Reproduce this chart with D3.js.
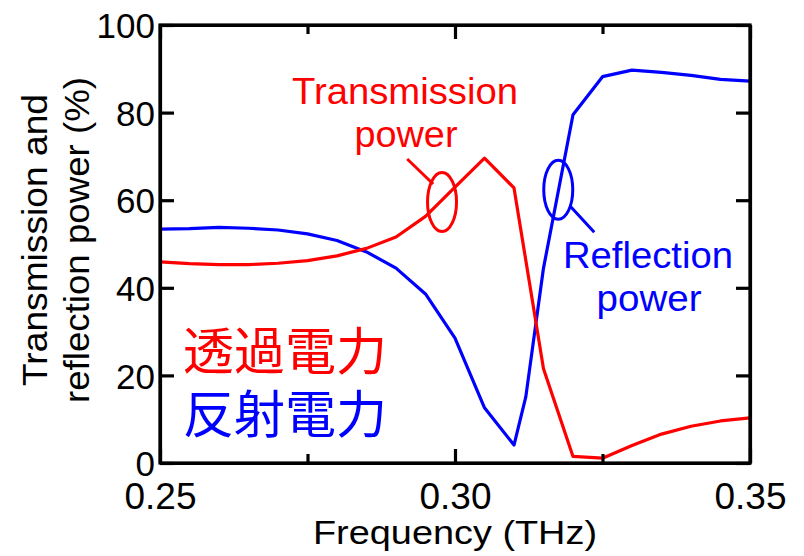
<!DOCTYPE html>
<html>
<head>
<meta charset="utf-8">
<script src="https://cdn.jsdelivr.net/npm/d3@7"></script>
<style>
   body { margin: 0; background: #fff; }
   text { font-family: "Liberation Sans", Arial, sans-serif; }
</style>
</head>
<body>
<div id="chart"></div>
<script>

// TRANSMISSION DATA (THz, %)
var freqT = [0.250, 0.255, 0.260, 0.265, 0.270, 0.275, 0.280, 0.285, 0.290, 0.295, 0.300,
             0.305, 0.310, 0.315, 0.320, 0.325, 0.330, 0.335, 0.340, 0.345, 0.350];
var transmission = [45.9, 45.5, 45.3, 45.3, 45.6, 46.2, 47.3, 49.0, 51.6, 56.3, 63.0,
                    69.6, 62.8, 21.5, 1.5, 1.1, 4.0, 6.6, 8.4, 9.6, 10.3];

// REFLECTION DATA (THz, %)
var freqR = [0.250, 0.255, 0.260, 0.265, 0.270, 0.275, 0.280, 0.285, 0.290, 0.295, 0.300,
             0.305, 0.310, 0.312, 0.315, 0.320, 0.325, 0.330, 0.335, 0.340, 0.345, 0.350];
var reflection = [53.4, 53.5, 53.8, 53.6, 53.2, 52.3, 50.8, 48.2, 44.5, 38.6, 28.5,
                  12.6, 4.1, 15.1, 44.5, 79.5, 88.2, 89.7, 89.2, 88.5, 87.6, 87.2];

// TICKS
var xMajor = [0.25, 0.30, 0.35];
var xMinor = [0.275, 0.325];
var yTicks = [0, 20, 40, 60, 80, 100];

// SETTINGS
var settings = {
   width: 804,
   height: 556,
   margin: { left: 160, top: 25, right: 54, bottom: 93 },
   red: '#ff0000',
   blue: '#0000ff'
};

var innerW = settings.width - settings.margin.left - settings.margin.right;
var innerH = settings.height - settings.margin.top - settings.margin.bottom;

// SCALES
var xScale = d3.scaleLinear().domain([0.25, 0.35]).range([0, innerW]);
var yScale = d3.scaleLinear().domain([0, 100]).range([innerH, 0]);

// CANVAS
var svg = d3.select('#chart').append('svg')
   .attr('width', settings.width)
   .attr('height', settings.height);

var g = svg.append('g')
   .attr('transform', 'translate(' + settings.margin.left + ',' + settings.margin.top + ')');

// CLIP FOR LINES
g.append('clipPath').attr('id', 'plot')
   .append('rect').attr('width', innerW).attr('height', innerH);

// LINE GENERATOR
function pathify(xs, ys) {
   var line = d3.line()
      .x((d, i) => { return xScale(xs[i]) })
      .y((d) => { return yScale(d) });
   return line(ys);
}

// DATA LINES
g.append('path')
   .attr('d', pathify(freqR, reflection))
   .attr('fill', 'none').attr('stroke', settings.blue)
   .attr('stroke-width', 3.2).attr('stroke-linejoin', 'round')
   .attr('clip-path', 'url(#plot)');

g.append('path')
   .attr('d', pathify(freqT, transmission))
   .attr('fill', 'none').attr('stroke', settings.red)
   .attr('stroke-width', 3.2).attr('stroke-linejoin', 'round')
   .attr('clip-path', 'url(#plot)');

// AXES (TICKS POINT INWARD)
var axisB = g.append('g').attr('transform', 'translate(0,' + innerH + ')')
   .call(d3.axisBottom(xScale).tickValues(xMajor).tickSizeInner(-14).tickSizeOuter(0)
      .tickFormat(d3.format('.2f')));
axisB.append('g')
   .call(d3.axisBottom(xScale).tickValues(xMinor).tickSizeInner(-9).tickSizeOuter(0).tickFormat(''));

var axisT = g.append('g')
   .call(d3.axisTop(xScale).tickValues(xMajor).tickSizeInner(-14).tickSizeOuter(0).tickFormat(''));
axisT.append('g')
   .call(d3.axisTop(xScale).tickValues(xMinor).tickSizeInner(-9).tickSizeOuter(0).tickFormat(''));

var axisL = g.append('g')
   .call(d3.axisLeft(yScale).tickValues(yTicks).tickSizeInner(-14).tickSizeOuter(0).tickPadding(5));

var axisR = g.append('g').attr('transform', 'translate(' + innerW + ',0)')
   .call(d3.axisRight(yScale).tickValues(yTicks).tickSizeInner(-14).tickSizeOuter(0).tickFormat(''));

// AXIS STYLE
g.selectAll('.domain').attr('stroke', '#000').attr('stroke-width', 3.2);
g.selectAll('.tick line').attr('stroke', '#000').attr('stroke-width', 3.2);
g.selectAll('.tick text')
   .attr('fill', '#000')
   .style('font-family', '"Liberation Sans", Arial, sans-serif');
axisL.selectAll('.tick text').attr('dy', '0.36em').style('font-size', '35px');
axisB.selectAll('.tick text').attr('y', 46).attr('dy', 0).style('font-size', '37px');

// FRAME
g.append('rect')
   .attr('width', innerW).attr('height', innerH)
   .attr('fill', 'none').attr('stroke', '#000').attr('stroke-width', 3.2);

// X TITLE
svg.append('text')
   .attr('x', 455).attr('y', 544)
   .attr('text-anchor', 'middle')
   .attr('textLength', 284).attr('lengthAdjust', 'spacingAndGlyphs')
   .style('font-size', '34px')
   .text('Frequency (THz)');

// Y TITLE (TWO LINES)
var ytitle = svg.append('text')
   .attr('transform', 'translate(47,240) rotate(-90)')
   .attr('text-anchor', 'middle')
   .style('font-size', '35px');
ytitle.append('tspan').attr('x', 0).attr('y', 0)
   .attr('textLength', 292).attr('lengthAdjust', 'spacingAndGlyphs')
   .text('Transmission and');
ytitle.append('tspan').attr('x', 0).attr('y', 42)
   .attr('textLength', 326).attr('lengthAdjust', 'spacingAndGlyphs')
   .text('reflection power (%)');

// ANNOTATION: TRANSMISSION
var tLabel = svg.append('text')
   .attr('fill', settings.red).attr('text-anchor', 'middle')
   .style('font-size', '36px');
tLabel.append('tspan').attr('x', 405).attr('y', 104)
   .attr('textLength', 226).attr('lengthAdjust', 'spacingAndGlyphs')
   .text('Transmission');
tLabel.append('tspan').attr('x', 406).attr('y', 147)
   .attr('textLength', 103).attr('lengthAdjust', 'spacingAndGlyphs')
   .text('power');

g.append('ellipse')
   .attr('cx', xScale(0.2978)).attr('cy', yScale(59.6))
   .attr('rx', 14.5).attr('ry', 29.5)
   .attr('fill', 'none').attr('stroke', settings.red).attr('stroke-width', 3);
g.append('line')
   .attr('x1', xScale(0.2919)).attr('y1', yScale(69.4))
   .attr('x2', xScale(0.2963)).attr('y2', yScale(63.7))
   .attr('stroke', settings.red).attr('stroke-width', 3);

// ANNOTATION: REFLECTION
var rLabel = svg.append('text')
   .attr('fill', settings.blue).attr('text-anchor', 'middle')
   .style('font-size', '36px');
rLabel.append('tspan').attr('x', 648).attr('y', 268)
   .attr('textLength', 170).attr('lengthAdjust', 'spacingAndGlyphs')
   .text('Reflection');
rLabel.append('tspan').attr('x', 649).attr('y', 311)
   .attr('textLength', 105).attr('lengthAdjust', 'spacingAndGlyphs')
   .text('power');

g.append('ellipse')
   .attr('cx', xScale(0.3175)).attr('cy', yScale(62.4))
   .attr('rx', 14.5).attr('ry', 29.5)
   .attr('fill', 'none').attr('stroke', settings.blue).attr('stroke-width', 3);
g.append('line')
   .attr('x1', xScale(0.3195)).attr('y1', yScale(58.7))
   .attr('x2', xScale(0.3236)).attr('y2', yScale(52.7))
   .attr('stroke', settings.blue).attr('stroke-width', 3);

// JAPANESE LABELS
svg.append('text')
   .attr('x', 183).attr('y', 370)
   .attr('fill', settings.red)
   .style('font-family', '"Noto Sans CJK JP", sans-serif')
   .style('font-size', '51px')
   .text('透過電力');
svg.append('text')
   .attr('x', 183).attr('y', 433)
   .attr('fill', settings.blue)
   .style('font-family', '"Noto Sans CJK JP", sans-serif')
   .style('font-size', '51px')
   .text('反射電力');

</script>
</body>
</html>
